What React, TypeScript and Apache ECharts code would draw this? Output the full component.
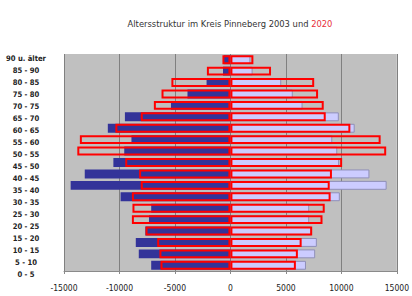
import React, { useEffect, useRef } from "react";
import * as echarts from "echarts";

const categories = [
  "0 - 5", "5 - 10", "10 - 15", "15 - 20", "20 - 25", "25 - 30", "30 - 35",
  "35 - 40", "40 - 45", "45 - 50", "50 - 55", "55 - 60", "60 - 65", "65 - 70",
  "70 - 75", "75 - 80", "80 - 85", "85 - 90", "90 u. älter",
];

const male2003 = [
  -7140, -8260, -8530, -7670, -7340, -7140, -9900, -14400, -13130, -10550,
  -9570, -8920, -11050, -9510, -5360, -3870, -2150, -670, -600,
];
const female2003 = [
  6810, 7640, 7790, 7300, 7100, 7100, 9860, 14080, 12530, 9800,
  9630, 9180, 11200, 9770, 6500, 5620, 4580, 2000, 1800,
];
const male2020 = [
  -6300, -6400, -6600, -7650, -8880, -8830, -8880, -8080, -8230, -9480,
  -13800, -13570, -10370, -8080, -6900, -6210, -5320, -2120, -720,
];
const female2020 = [
  5900, 6080, 6420, 7370, 8300, 8500, 9030, 8950, 9150, 10070,
  14040, 13540, 10810, 8590, 8410, 7900, 7550, 3660, 2070,
];

const xTicks = { min: -15000, max: 15000, interval: 5000 };

const titleMain = "Altersstruktur im Kreis Pinneberg 2003 und ";
const titleYear = "2020";

const FONT = "'Liberation Sans Narrow', 'Arial Narrow', 'DejaVu Sans Condensed', sans-serif";

export default function App() {
  const ref = useRef<HTMLDivElement>(null);
  useEffect(() => {
    document.body.style.margin = "0";
    const chart = echarts.init(ref.current!, null, { renderer: "svg" });
    chart.setOption({
      animation: false,
      backgroundColor: "#ffffff",
      title: {
        text: `{a|${titleMain}}{b|${titleYear}}`,
        left: 225,
        top: 14,
        textAlign: "center",
        textStyle: {
          fontWeight: "normal",
          rich: {
            a: { fontFamily: FONT, fontSize: 9.3, fontWeight: "normal", color: "#333333" },
            b: { fontFamily: FONT, fontSize: 9.3, fontWeight: "normal", color: "#e8303a" },
          },
        },
      },
      grid: [
        {
          left: 64,
          right: 10,
          top: 54,
          bottom: 25,
          show: true,
          backgroundColor: "#c0c0c0",
          borderWidth: 0,
        },
        { left: 64, right: 10, top: 52, bottom: 15 },
      ],
      xAxis: [
        {
          type: "value",
          gridIndex: 0,
          min: xTicks.min,
          max: xTicks.max,
          interval: xTicks.interval,
          axisLine: { show: true, lineStyle: { color: "#8a8a8a", width: 1 } },
          axisTick: { show: true, length: 3, lineStyle: { color: "#8a8a8a" } },
          splitLine: { show: true, lineStyle: { color: "#808080", width: 1 } },
          axisLabel: {
            fontFamily: FONT,
            fontSize: 8.5,
            color: "#222222",
            margin: 12,
            formatter: (v: number) => String(v),
          },
        },
        {
          type: "value",
          gridIndex: 1,
          min: xTicks.min,
          max: xTicks.max,
          show: false,
        },
      ],
      yAxis: [
        {
          type: "category",
          gridIndex: 0,
          data: categories,
          axisLine: { show: false },
          axisTick: { show: false },
          axisLabel: { show: false },
          splitLine: { show: false },
        },
        {
          type: "category",
          gridIndex: 1,
          data: categories,
          axisLine: { show: false },
          axisTick: { show: false },
          splitLine: { show: false },
          axisLabel: {
            fontFamily: FONT,
            fontSize: 7.6,
            fontWeight: "bold",
            color: "#222222",
            align: "center",
            margin: 38,
          },
        },
      ],
      series: [
        {
          name: "Männer 2003",
          type: "bar",
          stack: "y2003",
          data: male2003,
          barCategoryGap: "22%",
          itemStyle: { color: "#333399" },
        },
        {
          name: "Frauen 2003",
          type: "bar",
          stack: "y2003",
          data: female2003,
          itemStyle: { color: "#ccccff", borderColor: "#8f8fb8", borderWidth: 1 },
        },
        {
          name: "Männer 2020",
          type: "bar",
          stack: "y2020",
          barGap: "-100%",
          data: male2020,
          itemStyle: { color: "rgba(0,0,0,0)", borderColor: "#ff0000", borderWidth: 2 },
        },
        {
          name: "Frauen 2020",
          type: "bar",
          stack: "y2020",
          data: female2020,
          itemStyle: { color: "rgba(0,0,0,0)", borderColor: "#ff0000", borderWidth: 2 },
        },
      ],
    });
    return () => chart.dispose();
  }, []);
  return (
    <div
      ref={ref}
      style={{ position: "fixed", left: 0, top: 0, width: 412, height: 296 }}
    />
  );
}
